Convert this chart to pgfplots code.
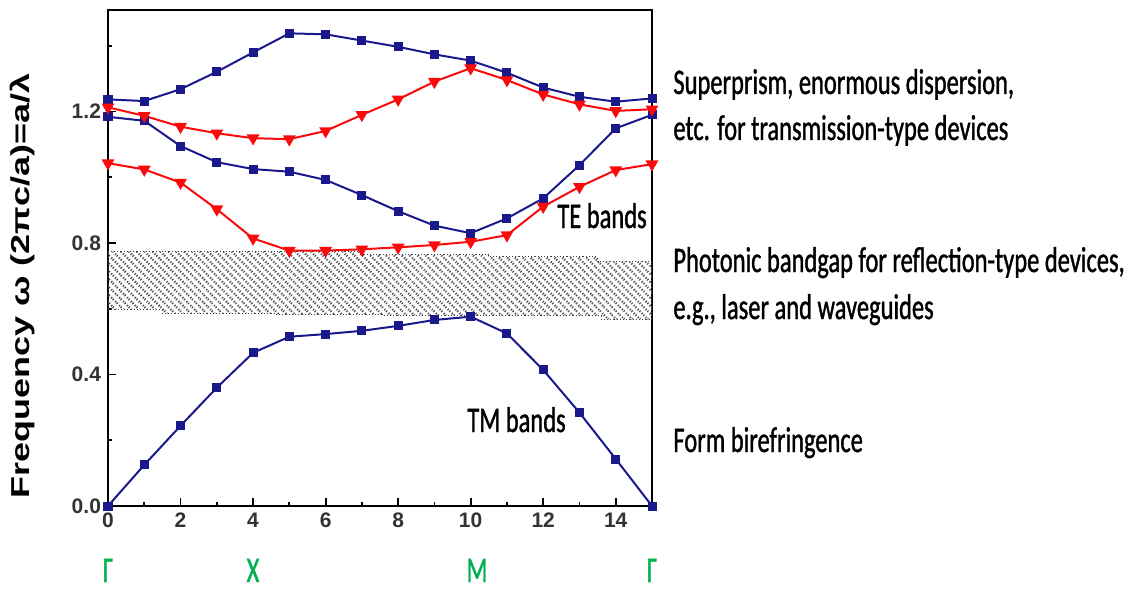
\documentclass[border=0pt]{standalone}
\usepackage{pgfplots}
\pgfplotsset{compat=1.18}
\usepackage{fontspec}
\usetikzlibrary{patterns.meta}
\setmainfont{Carlito}
\newfontfamily\calib{Carlito}[FakeStretch=0.68, FakeBold=1]
\newfontfamily\arialb{Liberation Sans}
\definecolor{navy}{RGB}{25,25,140}
\definecolor{bandred}{RGB}{250,10,10}
\definecolor{symgreen}{RGB}{0,176,80}
\begin{document}
\begin{tikzpicture}[x=1pt,y=1pt]
\path[use as bounding box] (0,0) rectangle (569.5,295);
\begin{axis}[
  at={(54pt,42pt)}, anchor=south west, scale only axis,
  width=272pt, height=248pt,
  xmin=0, xmax=15, ymin=0, ymax=1.509,
  axis line style={line width=1.1pt, black},
  tick style={line width=0.9pt, black},
  tick align=inside, xtick pos=bottom, ytick pos=left,
  major tick length=4pt, minor tick length=2.2pt,
  xtick={0,2,...,14}, minor xtick={1,3,...,15},
  ytick={0,0.4,0.8,1.2}, minor ytick={0.2,0.6,1.0,1.4},
  /pgf/number format/assume math mode=true,
  ticklabel style={font=\arialb\bfseries\fontsize{10.5}{12}\selectfont, text=black!80},
  yticklabel style={/pgf/number format/fixed, /pgf/number format/fixed zerofill, /pgf/number format/precision=1},
]
% photonic band gap (hatched)
\addplot[draw=black!75, densely dotted, line width=0.6pt, pattern={Lines[angle=-45,distance=2.8pt,line width=1.1pt]}, pattern color=black!68] coordinates {(0,0.598) (1.5,0.598) (1.5,0.586) (4.6,0.586) (4.6,0.583) (7.6,0.583) (7.6,0.580) (13.6,0.580) (13.6,0.568) (15,0.568) (15,0.743) (13.5,0.743) (13.5,0.758) (10.5,0.758) (10.5,0.764) (7,0.764) (7,0.774) (0,0.774)} -- cycle;
% TM band
\addplot[navy, line width=1pt, mark=square*, mark size=1.75pt] coordinates {(0,0) (1,0.125) (2,0.244) (3,0.360) (4,0.466) (5,0.515) (6,0.523) (7,0.533) (8,0.548) (9,0.566) (10,0.576) (11,0.525) (12,0.414) (13,0.284) (14,0.143) (15,0)};
% TE bands blue
\addplot[navy, line width=1pt, mark=square*, mark size=1.75pt] coordinates {(0,1.237) (1,1.232) (2,1.268) (3,1.321) (4,1.380) (5,1.438) (6,1.435) (7,1.416) (8,1.397) (9,1.374) (10,1.355) (11,1.318) (12,1.273) (13,1.245) (14,1.230) (15,1.240)};
\addplot[navy, line width=1pt, mark=square*, mark size=1.75pt] coordinates {(0,1.184) (1,1.172) (2,1.095) (3,1.046) (4,1.025) (5,1.017) (6,0.992) (7,0.946) (8,0.897) (9,0.853) (10,0.830) (11,0.875) (12,0.936) (13,1.037) (14,1.149) (15,1.190)};
% TE bands red
\addplot[bandred, line width=1pt, mark=triangle*, mark size=2.7pt, mark options={rotate=180}] coordinates {(0,1.213) (1,1.187) (2,1.154) (3,1.134) (4,1.119) (5,1.116) (6,1.141) (7,1.190) (8,1.237) (9,1.291) (10,1.332) (11,1.296) (12,1.252) (13,1.222) (14,1.202) (15,1.207)};
\addplot[bandred, line width=1pt, mark=triangle*, mark size=2.7pt, mark options={rotate=180}] coordinates {(0,1.043) (1,1.024) (2,0.984) (3,0.903) (4,0.814) (5,0.777) (6,0.777) (7,0.781) (8,0.787) (9,0.794) (10,0.804) (11,0.824) (12,0.911) (13,0.971) (14,1.022) (15,1.040)};
\end{axis}
% in-plot labels
\node[font=\calib\fontsize{18}{21}\selectfont, inner sep=0, anchor=base west] at (278.5,181) {TE bands};
\node[font=\calib\fontsize{18}{21}\selectfont, inner sep=0, anchor=base west] at (233.5,79) {TM bands};
% y label
\node[rotate=90, inner sep=0, font=\arialb\bfseries\fontsize{18}{21}\selectfont] at (11,152) {\scalebox{1}[0.72]{Frequency ω (2πc/a)=a/λ}};
% symmetry points
\begin{scope}[every node/.style={font=\calib\fontsize{18}{21}\selectfont, text=symgreen, inner sep=0, anchor=base}]
\node at (54,4) {Γ};
\node at (126.5,4) {X};
\node at (238.5,4) {M};
\node at (326,4) {Γ};
\end{scope}
% right annotations
\begin{scope}[every node/.style={font=\calib\fontsize{18}{21}\selectfont, inner sep=0, anchor=base west}]
\node at (336.5,248) {Superprism, enormous dispersion,};
\node at (336.5,225) {etc. for transmission-type devices};
\node at (336.5,159) {Photonic bandgap for reflection-type devices,};
\node at (336.5,135.5) {e.g., laser and waveguides};
\node at (336.5,69) {Form birefringence};
\end{scope}
\end{tikzpicture}
\end{document}
